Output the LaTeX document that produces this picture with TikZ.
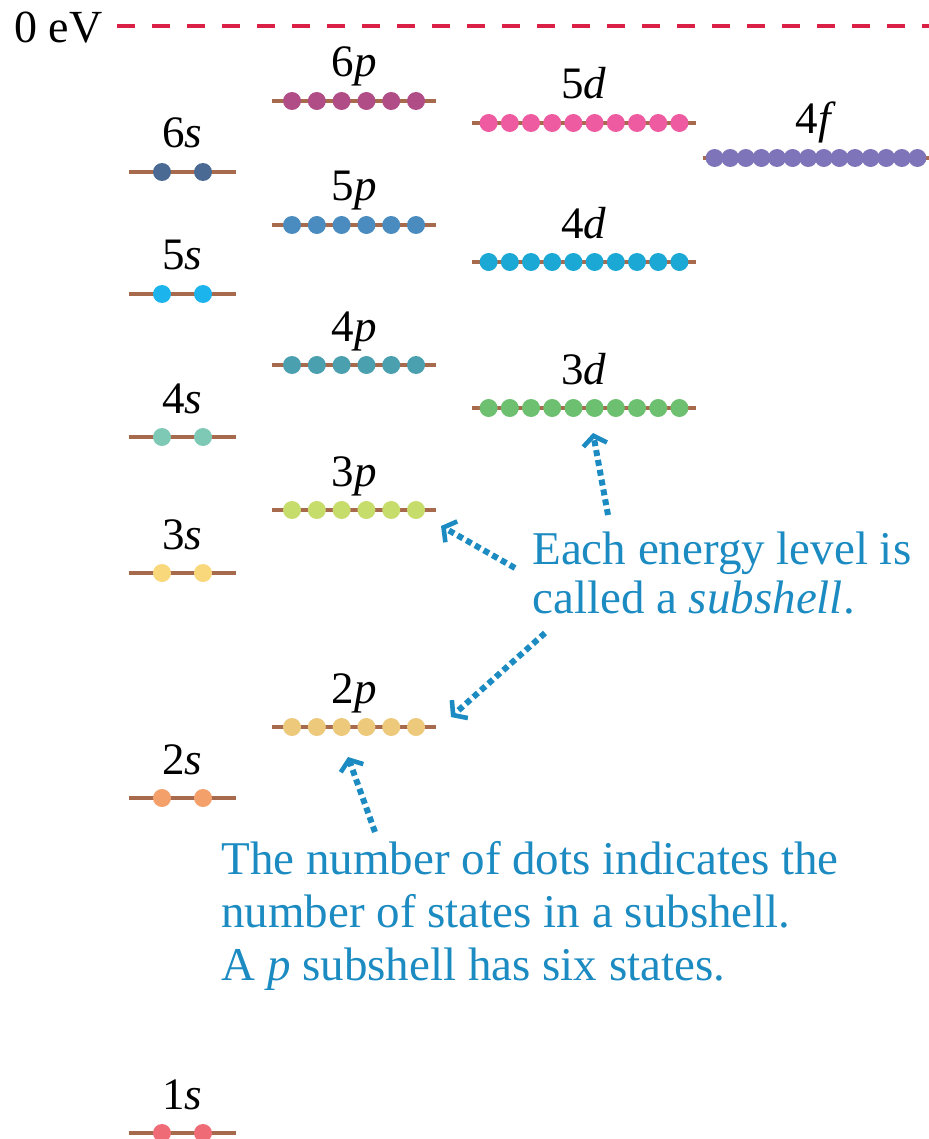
\documentclass[tikz,border=0pt]{standalone}
\usepackage{fontspec}
\setmainfont{Liberation Serif}
\usepackage{tikz}
\usetikzlibrary{arrows.meta}
\definecolor{lvbrown}{HTML}{A86A4C}
\definecolor{noteblue}{HTML}{1B8BC2}
\definecolor{zerored}{HTML}{DA2145}
\definecolor{col1s}{HTML}{EF6C77}
\definecolor{col2s}{HTML}{F3A06B}
\definecolor{col3s}{HTML}{F9D87C}
\definecolor{col4s}{HTML}{7DC9B5}
\definecolor{col5s}{HTML}{1BB4EC}
\definecolor{col6s}{HTML}{4A6A93}
\definecolor{col2p}{HTML}{EDC97C}
\definecolor{col3p}{HTML}{C6DC6B}
\definecolor{col4p}{HTML}{4BA0AF}
\definecolor{col5p}{HTML}{4A8CC0}
\definecolor{col6p}{HTML}{B04D87}
\definecolor{col3d}{HTML}{6CC070}
\definecolor{col4d}{HTML}{1CA8D5}
\definecolor{col5d}{HTML}{EE5BA0}
\definecolor{col4f}{HTML}{7E74B9}

\begin{document}
\begin{tikzpicture}[x=0.5pt,y=-0.5pt,
  level/.style={draw=lvbrown,line width=1.7pt},
  dot/.style={circle,fill=#1,inner sep=0pt,minimum size=9pt},
  lbl/.style={anchor=base,inner sep=0pt,font=\fontsize{22.5}{24}\selectfont},
  note/.style={anchor=north west,inner sep=0pt,align=left,text=noteblue},
  pointer/.style={noteblue,line width=3pt,dash pattern=on 3pt off 2pt,
    -{Straight Barb[length=4.5pt,width=12pt,line width=2.3pt]}}]
  \useasboundingbox (0,0) rectangle (929,1139);
  \node[anchor=base east,inner sep=0pt,font=\fontsize{23}{25}\selectfont] (zero) at (103,43) {0 eV};
  \coordinate (zend) at (929,26);
  \draw[zerored,line width=2pt,dash pattern=on 9pt off 8.5pt] ([xshift=7pt]zero.east |- zend) -- (zend);
  \foreach \q/\l/\cx/\y/\n/\sp/\hw in {1/s/182.5/1133/2/41/53.5, 2/s/182.5/798/2/41/53.5,
      3/s/182.5/573/2/41/53.5, 4/s/182.5/437/2/41/53.5, 5/s/182.5/294/2/41/53.5,
      6/s/182.5/172/2/41/53.5, 2/p/354/727/6/24.8/82, 3/p/354/510/6/24.8/82,
      4/p/354/365/6/24.8/82, 5/p/354/225/6/24.8/82, 6/p/354/101/6/24.8/82,
      3/d/584/408/10/21.2/112, 4/d/584/262/10/21.2/112, 5/d/584/123/10/21.2/112,
      4/f/816/158/14/15.6/113} {
    \draw[level] (\cx-\hw,\y) coordinate (a\q\l) -- (\cx+\hw,\y) coordinate (b\q\l);
    \foreach \k in {1,...,\n}
      \node[dot=col\q\l] (d\q\l\k) at ({\cx+(\k-(\n+1)/2)*\sp},\y) {};
    \node[lbl] (t\q\l) at (\cx,\y-24) {\q\textit{\l}};
  }
  \node[note,font=\fontsize{23.5}{24.5}\selectfont] (note1) at (532,531)
    {Each energy level is\\called a \textit{subshell}.};
  \node[note,font=\fontsize{23.5}{26.5}\selectfont] (note2) at (221,841)
    {The number of dots indicates the\\number of states in a subshell.\\A \textit{p} subshell has six states.};
  \coordinate (in3d) at (593,433);  \coordinate (out3d) at (608,515);
  \coordinate (in3p) at (441,526);  \coordinate (out3p) at (515,568);
  \coordinate (in2p) at (451,717);  \coordinate (out2p) at (545,633);
  \coordinate (up2p) at (348,757);  \coordinate (low2p) at (375,832);
  \draw[pointer] (out3d) -- (in3d);
  \draw[pointer] (out3p) -- (in3p);
  \draw[pointer] (out2p) -- (in2p);
  \draw[pointer] (low2p) -- (up2p);
\end{tikzpicture}
\end{document}
